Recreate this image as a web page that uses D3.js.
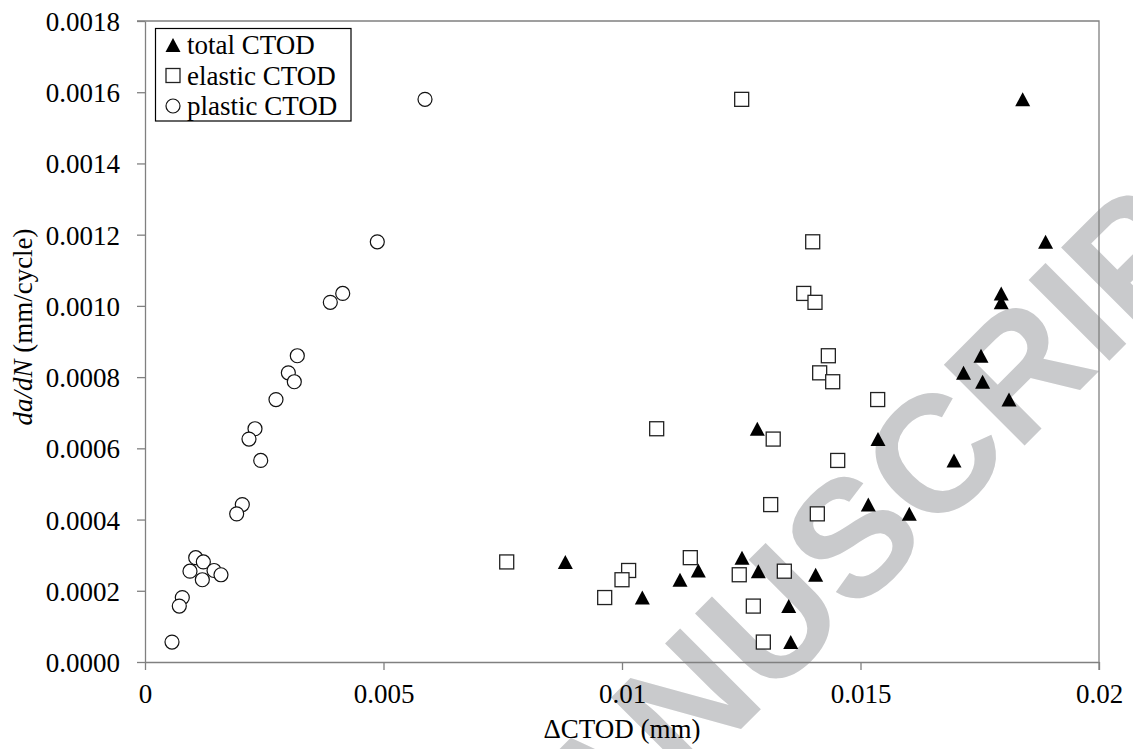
<!DOCTYPE html>
<html>
<head>
<meta charset="utf-8">
<script src="https://cdn.jsdelivr.net/npm/d3@7"></script>
<style>
  html, body { margin: 0; padding: 0; background: #fff; }
  svg { display: block; }
  .serif { font-family: "Liberation Serif", "Times New Roman", Times, "DejaVu Serif", serif; fill: #000; }
</style>
</head>
<body>
<svg id="chart" width="1133" height="749"></svg>
<script>
// Crack growth rate da/dN (mm/cycle), shared by the three CTOD measures
const dadN = [0.00158, 0.00118, 0.001035, 0.00101, 0.00086, 0.000812, 0.000787, 0.000737,
  0.000655, 0.000626, 0.000566, 0.000442, 0.000416, 0.000293, 0.000281, 0.000257,
  0.000255, 0.000245, 0.000231, 0.000181, 0.000157, 0.000056];

// ΔCTOD (mm) for each growth-rate value
const totalCTOD = [0.0184, 0.01888, 0.01795, 0.01795, 0.017526, 0.01716, 0.01756, 0.018113,
  0.012837, 0.015367, 0.01696, 0.015164, 0.016023, 0.012516, 0.008812, 0.0116,
  0.012858, 0.01406, 0.011216, 0.010426, 0.013495, 0.013537];
const elasticCTOD = [0.012509, 0.013998, 0.01381, 0.014046, 0.014326, 0.014144, 0.014417, 0.01536,
  0.010727, 0.01317, 0.014522, 0.013117, 0.014095, 0.011432, 0.007583, 0.010139,
  0.013403, 0.012458, 0.01, 0.009637, 0.012753, 0.012963];
const plasticCTOD = [0.00587, 0.00487, 0.004145, 0.003885, 0.003193, 0.003005, 0.00313, 0.002746,
  0.002306, 0.00218, 0.002426, 0.00204, 0.001922, 0.001063, 0.001223, 0.001447,
  0.000943, 0.001593, 0.001202, 0.000782, 0.000719, 0.000566];

const seriesNames = ["total CTOD", "elastic CTOD", "plastic CTOD"];
const xTicks = [0, 0.005, 0.01, 0.015, 0.02];
const xTickLabels = ["0", "0.005", "0.01", "0.015", "0.02"];
const yTicks = [0, 0.0002, 0.0004, 0.0006, 0.0008, 0.001, 0.0012, 0.0014, 0.0016, 0.0018];
const yTickLabels = ["0.0000", "0.0002", "0.0004", "0.0006", "0.0008", "0.0010", "0.0012", "0.0014", "0.0016", "0.0018"];

const svg = d3.select("#chart");
const plotLeft = 145, plotRight = 1099, plotTop = 21, plotBottom = 662;
const x = d3.scaleLinear().domain([0, 0.02]).range([plotLeft, plotRight]);
const y = d3.scaleLinear().domain([0, 0.0018]).range([plotBottom, plotTop]);
const axisColor = "#808080";
const fontSize = 27;

// journal watermark, behind the plot
svg.append("text")
  .attr("transform", "translate(1284,186) rotate(-45)")
  .attr("text-anchor", "end")
  .attr("font-family", "'Liberation Sans', Arial, sans-serif")
  .attr("font-weight", "bold")
  .attr("font-size", 166)
  .attr("fill", "#c9cacc")
  .text("ACCEPTED MANUSCRIPT");

// plot frame (top and right edges)
svg.append("path")
  .attr("d", `M${plotLeft - 8},${plotTop}H${plotRight}V${plotBottom + 8}`)
  .attr("fill", "none").attr("stroke", axisColor).attr("stroke-width", 1.3);

// y axis
const yAxis = svg.append("g").attr("transform", `translate(${plotLeft},0)`)
  .call(d3.axisLeft(y).tickValues(yTicks).tickSize(8).tickSizeOuter(0)
    .tickFormat((d, i) => yTickLabels[i]))
  .attr("font-family", null).attr("font-size", null);
yAxis.select(".domain").attr("stroke", axisColor).attr("stroke-width", 1.3);
yAxis.selectAll(".tick line").attr("stroke", axisColor).attr("stroke-width", 1.3);
yAxis.selectAll(".tick text")
  .attr("class", "serif")
  .attr("x", -25).attr("dy", "0.35em")
  .attr("font-size", fontSize).attr("fill", "#000");

// x axis
const xAxis = svg.append("g").attr("transform", `translate(0,${plotBottom})`)
  .call(d3.axisBottom(x).tickValues(xTicks).tickSize(8).tickSizeOuter(0)
    .tickFormat((d, i) => xTickLabels[i]))
  .attr("font-family", null).attr("font-size", null);
xAxis.select(".domain").attr("stroke", axisColor).attr("stroke-width", 1.3);
xAxis.selectAll(".tick line").attr("stroke", axisColor).attr("stroke-width", 1.3);
xAxis.selectAll(".tick text")
  .attr("class", "serif")
  .attr("y", 41).attr("dy", 0)
  .attr("font-size", fontSize).attr("fill", "#000");

// axis titles
svg.append("text")
  .attr("class", "serif")
  .attr("x", (plotLeft + plotRight) / 2).attr("y", 738)
  .attr("text-anchor", "middle")
  .attr("font-size", fontSize)
  .text("ΔCTOD (mm)");

const yTitle = svg.append("text")
  .attr("class", "serif")
  .attr("transform", "translate(32,327) rotate(-90)")
  .attr("text-anchor", "middle")
  .attr("font-size", fontSize);
yTitle.append("tspan").attr("font-style", "italic").text("da/dN");
yTitle.append("tspan").text(" (mm/cycle)");

// marker shapes
const triPath = "M0,-7L7.5,7L-7.5,7Z";
function drawTriangle(g) {
  g.append("path").attr("d", triPath).attr("fill", "#000");
}
function drawSquare(g) {
  g.append("rect").attr("x", -7).attr("y", -7).attr("width", 14).attr("height", 14)
    .attr("fill", "#fff").attr("stroke", "#222").attr("stroke-width", 1.3);
}
function drawCircle(g) {
  g.append("circle").attr("r", 7)
    .attr("fill", "#fff").attr("stroke", "#111").attr("stroke-width", 1.2);
}

const series = [
  { xs: totalCTOD, draw: drawTriangle },
  { xs: elasticCTOD, draw: drawSquare },
  { xs: plasticCTOD, draw: drawCircle }
];

series.forEach(s => {
  svg.append("g").selectAll("g")
    .data(s.xs.map((v, i) => [v, dadN[i]]))
    .join("g")
    .attr("transform", d => `translate(${x(d[0])},${y(d[1])})`)
    .each(function () { s.draw(d3.select(this)); });
});

// legend
const legend = svg.append("g");
legend.append("rect")
  .attr("x", 155.5).attr("y", 28.5).attr("width", 195.5).attr("height", 92.5)
  .attr("fill", "#fff").attr("stroke", "#000").attr("stroke-width", 1.2);
series.forEach((s, i) => {
  const row = legend.append("g").attr("transform", `translate(0,${45 + i * 30.5})`);
  const m = row.append("g").attr("transform", "translate(173,0)");
  s.draw(m);
  row.append("text").attr("class", "serif").attr("x", 187).attr("y", 9)
    .attr("font-size", fontSize).text(seriesNames[i]);
});
</script>
</body>
</html>
